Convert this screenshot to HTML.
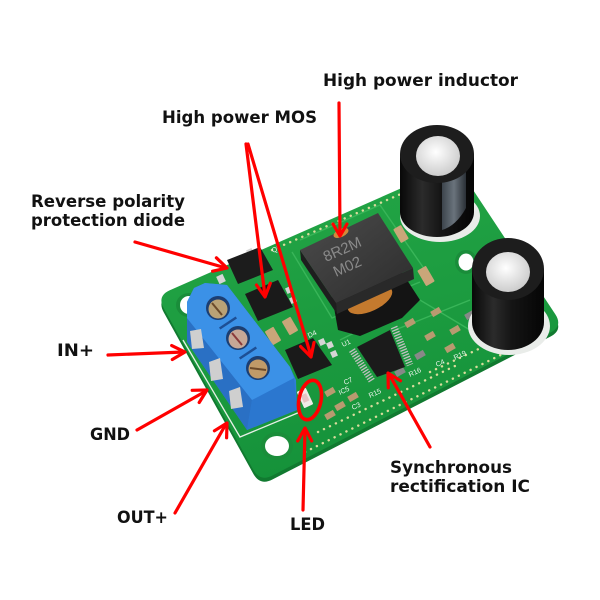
<!DOCTYPE html>
<html><head><meta charset="utf-8"><style>
html,body{margin:0;padding:0;background:#fff;}
svg{display:block}
.l{font-family:"DejaVu Sans","Liberation Sans",sans-serif;font-weight:bold;font-size:17px;fill:#111}
.s{font-family:"Liberation Sans",sans-serif;font-size:7px;fill:#eef5ee}
</style></head><body>
<svg width="600" height="600" viewBox="0 0 600 600" xmlns="http://www.w3.org/2000/svg">
<defs>
<linearGradient id="pcb" x1="0" y1="0" x2="0.3" y2="1">
<stop offset="0" stop-color="#25a847"/><stop offset="1" stop-color="#15923a"/></linearGradient>
<linearGradient id="capb" x1="0" y1="0" x2="1" y2="0">
<stop offset="0" stop-color="#080808"/><stop offset="0.3" stop-color="#2b2b2b"/><stop offset="0.55" stop-color="#151515"/><stop offset="1" stop-color="#050505"/></linearGradient>
<radialGradient id="silver" cx="0.45" cy="0.4" r="0.7"><stop offset="0" stop-color="#ffffff"/><stop offset="1" stop-color="#c4c4c4"/></radialGradient>
<linearGradient id="ind" x1="0" y1="0" x2="1" y2="1"><stop offset="0" stop-color="#4c4c4c"/><stop offset="1" stop-color="#2c2c2c"/></linearGradient>
<linearGradient id="sleeve" x1="0" y1="0" x2="1" y2="0"><stop offset="0" stop-color="#3c444c"/><stop offset="0.5" stop-color="#6a737c"/><stop offset="1" stop-color="#2a3036"/></linearGradient>
</defs>

<!-- board thickness -->
<path transform="translate(0,4)" d="M169.8,290.3 L443.2,169.7 Q456,164 463.7,175.7 L555.3,314.3 Q563,326 550.6,332.5 L272.4,475.5 Q260,482 253.3,469.7 L163.7,308.3 Q157,296 169.8,290.3 Z" fill="#117a30"/>
<!-- board top -->
<path d="M169.8,290.3 L443.2,169.7 Q456,164 463.7,175.7 L555.3,314.3 Q563,326 550.6,332.5 L272.4,475.5 Q260,482 253.3,469.7 L163.7,308.3 Q157,296 169.8,290.3 Z" fill="url(#pcb)"/>

<!-- traces -->
<g stroke="#39b559" stroke-width="1.4" fill="none">
<polyline points="292,252 332,318 420,282"/>
<polyline points="300,240 380,205 425,270"/>
<polyline points="340,340 420,300 470,330"/>
<polyline points="395,330 470,300"/>
</g>

<!-- holes -->
<ellipse cx="189" cy="305" rx="13" ry="12" fill="#1a8d3a"/>
<ellipse cx="189" cy="305" rx="9" ry="9" fill="#fff"/>
<ellipse cx="277" cy="446" rx="16" ry="14" fill="#1a8d3a"/>
<ellipse cx="277" cy="446" rx="12" ry="10" fill="#fff"/>
<ellipse cx="466" cy="262" rx="11" ry="12" fill="#1a8d3a"/>
<ellipse cx="466" cy="262" rx="7.5" ry="8.5" fill="#fff"/>

<!-- vias -->
<g stroke="#d9dc9c" stroke-width="2.4" stroke-linecap="round" stroke-dasharray="0.1 6.5" fill="none">
<line x1="272" y1="250" x2="410" y2="190"/>
<line x1="305" y1="452" x2="545" y2="333"/>
<line x1="318" y1="432" x2="455" y2="366"/>
<line x1="430" y1="372" x2="540" y2="320"/>
</g>

<!-- small SMD parts -->
<g>
<rect x="-5" y="-8" width="10" height="16" rx="1" fill="#c9a679" transform="translate(273,336) rotate(-30)"/>
<rect x="-5" y="-8" width="10" height="16" rx="1" fill="#c9a679" transform="translate(290,326) rotate(-30)"/>
<rect x="-4.5" y="-8" width="9" height="16" rx="1" fill="#c9a679" transform="translate(401,234) rotate(-30)"/>
<rect x="-5" y="-9" width="10" height="18" rx="1" fill="#c9a679" transform="translate(426,276) rotate(-30)"/>
<rect x="-3" y="-5" width="6" height="10" fill="#b89a70" transform="translate(330,392) rotate(60)"/>
<rect x="-3" y="-5" width="6" height="10" fill="#b89a70" transform="translate(340,406) rotate(60)"/>
<rect x="-3" y="-5" width="6" height="10" fill="#b89a70" transform="translate(330,415) rotate(60)"/>
<rect x="-3" y="-5" width="6" height="10" fill="#b89a70" transform="translate(353,397) rotate(60)"/>
<rect x="-3" y="-5" width="6" height="10" fill="#b89a70" transform="translate(410,323) rotate(60)"/>
<rect x="-3" y="-5" width="6" height="10" fill="#b89a70" transform="translate(430,336) rotate(60)"/>
<rect x="-3" y="-5" width="6" height="10" fill="#b89a70" transform="translate(455,330) rotate(60)"/>
<rect x="-3" y="-5" width="6" height="10" fill="#b89a70" transform="translate(436,312) rotate(60)"/>
<rect x="-3" y="-5" width="6" height="10" fill="#b89a70" transform="translate(450,348) rotate(60)"/>
<rect x="-3" y="-5" width="6" height="10" fill="#888" transform="translate(420,355) rotate(60)"/>
<rect x="-3" y="-5" width="6" height="10" fill="#888" transform="translate(400,372) rotate(60)"/>
<rect x="-3" y="-5" width="6" height="10" fill="#888" transform="translate(470,315) rotate(60)"/>
<rect x="-3.5" y="-4" width="7" height="8" fill="#d5d5d5" transform="translate(221,279) rotate(-25)"/>
<rect x="-3" y="-3" width="6" height="6" fill="#d5d5d5" transform="translate(250,252) rotate(-25)"/>
<rect x="-3" y="-3" width="6" height="6" fill="#d5d5d5" transform="translate(289,290) rotate(-25)"/>
<rect x="-3" y="-3" width="6" height="6" fill="#d5d5d5" transform="translate(293,300) rotate(-25)"/>
<rect x="-3" y="-3" width="6" height="6" fill="#d5d5d5" transform="translate(330,345) rotate(-25)"/>
<rect x="-3" y="-3" width="6" height="6" fill="#d5d5d5" transform="translate(334,354) rotate(-25)"/>
<rect x="-3" y="-3" width="6" height="6" fill="#d5d5d5" transform="translate(322,342) rotate(-25)"/>
</g>

<!-- silk labels -->
<g class="s">
<text x="0" y="0" transform="translate(345,385) rotate(-25)">C7</text>
<text x="0" y="0" transform="translate(340,395) rotate(-25)">IC5</text>
<text x="0" y="0" transform="translate(370,398) rotate(-25)">R15</text>
<text x="0" y="0" transform="translate(353,410) rotate(-25)">C3</text>
<text x="0" y="0" transform="translate(410,377) rotate(-25)">R16</text>
<text x="0" y="0" transform="translate(455,360) rotate(-25)">R19</text>
<text x="0" y="0" transform="translate(437,367) rotate(-25)">C4</text>
<text x="0" y="0" transform="translate(343,347) rotate(-25)">U1</text>
<text x="0" y="0" transform="translate(309,338) rotate(-25)">D4</text>
<text x="0" y="0" transform="translate(273,253) rotate(-25)">Q2</text>
</g>

<!-- diode -->
<polygon points="227,260 260,247 273,270 238,284" fill="#1c1c1c"/>
<!-- MOSFETs -->
<polygon points="245,294 278,280 293,307 258,321" fill="#1a1a1a"/>
<polygon points="285,350 313,338 332,365 298,379" fill="#1a1a1a"/>

<!-- inductor -->
<polygon points="330,285 394,260 420,300 402,318 360,336 338,330" fill="#141414"/>
<ellipse cx="370" cy="300" rx="24" ry="11" transform="rotate(-25 370 300)" fill="#c47a2e"/>
<polygon points="300,250 336,303 337,314 301,260" fill="#1e1e1e"/>
<polygon points="336,303 413,268 414,279 337,314" fill="#292929"/>
<polygon points="300,250 378,213 413,268 336,303" fill="url(#ind)"/>
<ellipse cx="341" cy="233" rx="8" ry="4" transform="rotate(-25 341 233)" fill="#d08a3a"/>
<g font-family="Liberation Sans,sans-serif" font-size="15" fill="#8a8a8a">
<text x="0" y="0" transform="translate(326,262) rotate(-24)">8R2M</text>
<text x="0" y="0" transform="translate(336,277) rotate(-24)">M02</text>
</g>

<!-- IC -->
<line x1="352" y1="350" x2="372" y2="381" stroke="#c0c0c0" stroke-width="7" stroke-dasharray="1.3 1.4"/>
<line x1="394" y1="327" x2="410" y2="365" stroke="#c0c0c0" stroke-width="7" stroke-dasharray="1.3 1.4"/>
<polygon points="357,347 390,330 405,367 377,377" fill="#1b1b1b"/>

<!-- LED -->
<rect x="-5" y="-9" width="10" height="18" rx="1" fill="#f1ebe8" transform="translate(305,398) rotate(-25)"/>
<rect x="-3" y="-4" width="6" height="8" fill="#e7c3c3" transform="translate(305,398) rotate(-25)"/>

<!-- capacitor 1 -->
<ellipse cx="440" cy="216" rx="40" ry="26" fill="#e9ece9"/>
<path d="M400,154 L400,212 A37,25 0 0 0 474,212 L474,154 Z" fill="url(#capb)"/>
<path d="M442,180 L466,172 L466,208 Q456,226 442,230 Z" fill="url(#sleeve)"/>
<ellipse cx="437" cy="154" rx="37" ry="29" fill="#1d1d1d"/>
<ellipse cx="438" cy="156" rx="22" ry="20" fill="url(#silver)"/>
<!-- capacitor 2 -->
<ellipse cx="509" cy="326" rx="41" ry="29" fill="#e9ece9"/>
<path d="M472,269 L472,322 A36,28 0 0 0 544,322 L544,269 Z" fill="url(#capb)"/>
<ellipse cx="508" cy="269" rx="36" ry="31" fill="#1d1d1d"/>
<ellipse cx="508" cy="272" rx="22" ry="20" fill="url(#silver)"/>

<!-- terminal block -->
<polyline points="183,340 240,437 300,412" fill="none" stroke="#e6efe6" stroke-width="1.3"/>
<polygon points="187,302 194,288 205,283 227,285 290,367 296,380 297,410 247,430 187,342" fill="#2f7fd6"/>
<polygon points="187,318 252,400 247,430 187,342" fill="#2a70c4"/>
<polygon points="252,400 294,378 297,410 247,430" fill="#2b77cf"/>
<polygon points="187,302 194,288 205,283 227,285 290,367 294,378 252,400 187,318" fill="#3b91e7"/>
<g fill="#cfcfcf">
<polygon points="190,331 201,329 204,348 192,349"/>
<polygon points="209,362 220,358 223,379 211,381"/>
<polygon points="229,391 240,387 243,407 231,409"/>
</g>
<g stroke="#1d4f95" stroke-width="2.5">
<line x1="219.7" y1="328.5" x2="236.3" y2="317.5"/>
<line x1="239.7" y1="358.5" x2="256.3" y2="347.5"/>
</g>
<g>
<circle cx="218" cy="308" r="12" fill="#1c3e72"/><circle cx="218" cy="309" r="9.5" fill="#b9a276"/>
<line x1="212" y1="303" x2="222" y2="315" stroke="#6b4a2a" stroke-width="2"/>
<circle cx="238" cy="338" r="12" fill="#1c3e72"/><circle cx="238" cy="339" r="9.5" fill="#c6a796"/>
<line x1="232" y1="333" x2="242" y2="345" stroke="#8a3a3a" stroke-width="2"/>
<circle cx="258" cy="368" r="12" fill="#1c3e72"/><circle cx="258" cy="369" r="9.5" fill="#c09a68"/>
<line x1="250" y1="368" x2="266" y2="370" stroke="#6b4a2a" stroke-width="2"/>
</g>

<!-- red annotations -->
<g stroke="#ff0000" stroke-width="3.2" fill="none" stroke-linecap="round" stroke-linejoin="round">
<line x1="339" y1="103" x2="340" y2="235"/>
<polyline points="333,224 340,236 347,224"/>
<line x1="246" y1="144" x2="265" y2="296"/>
<polyline points="256.5,285 265,297 270.3,283.2"/>
<line x1="248" y1="144" x2="311" y2="356"/>
<polyline points="300.6,346.5 311,357 314,342.5"/>
<line x1="135" y1="242" x2="226" y2="268"/>
<polyline points="212.6,271.2 227,268 216.4,257.8"/>
<line x1="108" y1="355" x2="184" y2="352"/>
<polyline points="172.3,359.5 185,352 171.7,345.5"/>
<line x1="137" y1="430" x2="206" y2="391"/>
<polyline points="199.2,402.5 207,390 192.2,390.3"/>
<line x1="175" y1="513" x2="226" y2="424"/>
<polyline points="226.6,437.8 227,423 214.4,430.8"/>
<line x1="303" y1="510" x2="305" y2="429"/>
<polyline points="297.7,441 305,428 311.7,441"/>
<line x1="430" y1="447" x2="389" y2="374"/>
<polyline points="400.5,380.8 388,373 388.3,387.8"/>
<ellipse cx="310" cy="400" rx="11" ry="20" transform="rotate(12 310 400)" stroke-width="3.6"/>
</g>

<!-- labels -->
<text class="l" x="323" y="86" textLength="195" lengthAdjust="spacingAndGlyphs">High power inductor</text>
<text class="l" x="162" y="123" textLength="155" lengthAdjust="spacingAndGlyphs">High power MOS</text>
<text class="l" x="31" y="207" textLength="154" lengthAdjust="spacingAndGlyphs">Reverse polarity</text>
<text class="l" x="31" y="226" textLength="154" lengthAdjust="spacingAndGlyphs">protection diode</text>
<text class="l" x="57" y="356" textLength="37" lengthAdjust="spacingAndGlyphs">IN+</text>
<text class="l" x="90" y="440" textLength="40" lengthAdjust="spacingAndGlyphs">GND</text>
<text class="l" x="117" y="523" textLength="51" lengthAdjust="spacingAndGlyphs">OUT+</text>
<text class="l" x="290" y="530" textLength="35" lengthAdjust="spacingAndGlyphs">LED</text>
<text class="l" x="390" y="473" textLength="122" lengthAdjust="spacingAndGlyphs">Synchronous</text>
<text class="l" x="390" y="492" textLength="140" lengthAdjust="spacingAndGlyphs">rectification IC</text>
</svg>
</body></html>
